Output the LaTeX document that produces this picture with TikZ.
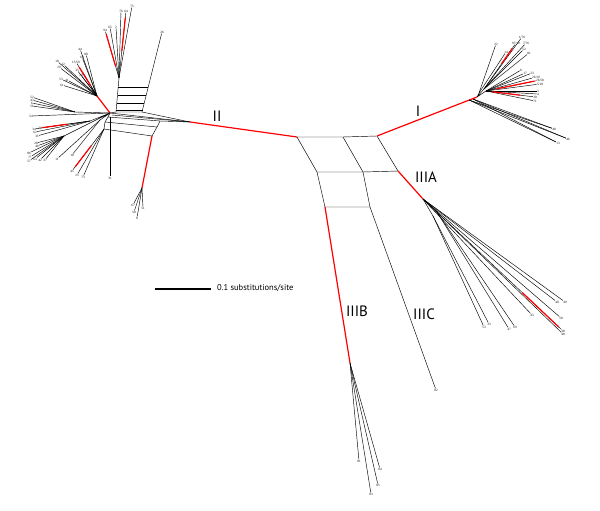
\documentclass[tikz,border=0pt]{standalone}
\usepackage{fontspec}
\setmainfont{Liberation Serif}
\newfontfamily\cladefont{PT Sans}
\usetikzlibrary{calc}
\begin{document}
\begin{tikzpicture}[x=1pt,y=-1pt,
  br/.style={draw=black,line width=0.45pt},
  rd/.style={draw=red,line width=1.2pt},
  lf/.style={font=\fontsize{3.3}{3.6}\selectfont,inner sep=0.3pt},
  cl/.style={font=\cladefont\fontsize{15}{15}\selectfont,inner sep=0pt},
  sc/.style={font=\cladefont\fontsize{8.5}{9}\selectfont,inner sep=0pt,anchor=west}]
\useasboundingbox (0,0) rectangle (600,511);
% ---------------- central network ----------------
\coordinate (A) at (297,137);
\coordinate (M) at (343,137);
\coordinate (B) at (377,136);
\coordinate (C1) at (317,172);
\coordinate (C2) at (363,172);
\coordinate (C3) at (398,171);
\coordinate (D1) at (325,207);
\coordinate (D2) at (370,207);
\draw[br] (A) -- (M) -- (B);
\draw[br] (A) -- (C1) (M) -- (C2) (B) -- (C3);
\draw[br] (C1) -- (C2) -- (C3);
\draw[br] (C1) -- (D1) (C2) -- (D2) (D1) -- (D2);
% hubs
\coordinate (hI) at (477,97);
\coordinate (hII) at (190,122);
\coordinate (hA) at (423,199);
\coordinate (hB) at (350,363);
\draw[rd] (B) -- (hI);
\draw[rd] (A) -- (hII);
\draw[rd] (C3) -- (hA);
\draw[rd] (D1) -- (hB);
\node[lf] (c82) at (436,390) {82};
\draw[br] (D2) -- (c82);
% clade labels
\node[cl] (lI) at (418,111) {I};
\node[cl] (lII) at (217,116) {II};
\node[cl] (lIIIA) at (426,177) {IIIA};
\node[cl] (lIIIB) at (357,311) {IIIB};
\node[cl] (lIIIC) at (424,314) {IIIC};
% scale bar
\coordinate (s1) at (155,289);
\coordinate (s2) at (211,289);
\draw[line width=1.1pt] (s1) -- (s2);
\node[sc] (st) at (217,288) {0.1 substitutions/site};
% ---------------- cluster I ----------------
\coordinate (I1) at (479,93);
\coordinate (I2) at (484,89);
\coordinate (I3) at (486,91);
\coordinate (I4) at (469,100);
\coordinate (I5) at (473,99);
\draw[br] (hI) -- (I1) (hI) -- (I2) (hI) -- (I3);
\foreach \x/\y/\t [count=\k] in {496/44/{22},506/52/{14}}
  {\node[lf] (Ic\k) at (\x,\y) {\t}; \draw[br] (I1) -- (Ic\k);}
\foreach \x/\y/\t [count=\k] in {516/43/{97/19},522/37/{1/76},526/43/{7/76},524/49/{52},529/53/{81}}
  {\node[lf] (Ia\k) at (\x,\y) {\t}; \draw[br] (I2) -- (Ia\k);}
\foreach \x/\y/\t [count=\k] in {521/70/{8},525/73/{17},532/73/{23},536/77/{26/19},540/80/{26/58},540/84/{5/18},538/91/{3},538/94/{4},535/97/{30},535/101/{71}}
  {\node[lf] (Ib\k) at (\x,\y) {\t}; \draw[br] (I3) -- (Ib\k);}
\foreach \x/\y/\t [count=\k] in {554/129/{48},568/139/{46},558/143/{13}}
  {\node[lf] (Id\k) at (\x,\y) {\t}; \draw[br] (I4) -- (Id\k); \draw[br] (I5) -- (Id\k);}
\draw[rd] ($(I2)!0.55!(Ia1)$) -- ($(I2)!0.88!(Ia1)$);
\draw[rd] ($(I3)!0.2!(Ib5)$) -- ($(I3)!0.9!(Ib5)$);
\draw[rd] ($(I3)!0.12!(Ib9)$) -- ($(I3)!0.7!(Ib9)$);
% ---------------- cluster IIIA ----------------
\coordinate (A1) at (433,216);
\coordinate (A2) at (437,212);
\draw[br] (hA) -- (A1) (hA) -- (A2);
\foreach \x/\y/\t [count=\k] in {557/302/{40},565/302/{49},561/318/{50},563/331/{38},563/334/{48},532/315/{43}}
  {\node[lf] (Aa\k) at (\x,\y) {\t}; \draw[br] (hA) -- (Aa\k);}
\foreach \x/\y/\t [count=\k] in {509/329/{47},515/327/{69}}
  {\node[lf] (Ab\k) at (\x,\y) {\t}; \draw[br] (A2) -- (Ab\k);}
\foreach \x/\y/\t [count=\k] in {484/327/{53},489/324/{33}}
  {\node[lf] (Ac\k) at (\x,\y) {\t}; \draw[br] (A1) -- (Ac\k);}
\draw[rd] ($(hA)!0.71!(Aa4)$) -- ($(hA)!0.97!(Aa4)$);
% ---------------- cluster IIIB ----------------
\foreach \x/\y/\t [count=\k] in {359/461/{81},380/469/{84},378/485/{85},371/494/{83}}
  {\node[lf] (Ba\k) at (\x,\y) {\t}; \draw[br] (hB) -- (Ba\k);}
% ---------------- cluster II ----------------
\coordinate (hL) at (110,113);
\coordinate (LB) at (116,112);
\coordinate (RB) at (142,112);
\coordinate (T) at (119,78);
\draw[br] (hL) -- (hII);
\draw[br] (hL) -- (LB) -- (RB) -- (hII);
\draw[br] (LB) -- (T);
% ladder
\draw[br] (118.2,87) -- (148.3,87) (117.5,95) -- (146.3,95) (116.8,103) -- (144.3,103) (116.2,110) -- (142.5,110);
\node[lf] (L26) at (162,32) {26};
\draw[br] (RB) -- (L26);
% box below band
\coordinate (Q1) at (108,117);
\coordinate (Q2) at (105,122);
\coordinate (Q3) at (104,129);
\coordinate (R1) at (160,121);
\coordinate (R2) at (157,127);
\coordinate (R3) at (152,136);
\draw[br] (hL) -- (Q1) -- (Q2) -- (Q3);
\draw[br] (R1) -- (R2) -- (R3);
\draw[br] (Q1) -- (R1) -- (hII);
\draw[br] (Q2) -- (R2);
\draw[br] (Q3) -- (R3);
\draw[br] (112,115) -- (hII);
\coordinate (hR) at (142,188);
\draw[rd] (R3) -- (hR);
\foreach \x/\y/\t [count=\k] in {133/205/{67},143/208/{51},134/212/{58},137/218/{8}}
  {\node[lf] (Ra\k) at (\x,\y) {\t}; \draw[br] (hR) -- (Ra\k);}
% top fan
\foreach \x/\y/\t [count=\k] in {105/30/{94},110/27/{65},116/27/{2},121/11/{76},126/11/{64},132/6/{75}}
  {\node[lf] (Ta\k) at (\x,\y) {\t}; \draw[br] (T) -- (Ta\k);}
\draw[rd] ($(T)!0.25!(Ta1)$) -- ($(T)!0.92!(Ta1)$);
\draw[rd] ($(T)!0.4!(Ta5)$) -- ($(T)!0.9!(Ta5)$);
% upper-left fan
\coordinate (UL) at (97,96);
\draw[rd] (hL) -- (UL);
\foreach \x/\y/\t [count=\k] in {80/49/{44},86/54/{80},82/57/{60},76/62/{15/59},57/61/{10},63/64/{12},59/67/{29},77/70/{35},82/71/{1},81/75/{20},61/79/{53},67/80/{41},62/85/{61}}
  {\node[lf] (Ua\k) at (\x,\y) {\t}; \draw[br] (UL) -- (Ua\k);}
\draw[rd] ($(UL)!0.3!(Ua4)$) -- ($(UL)!0.85!(Ua4)$);
% left fan
\coordinate (W1) at (75,112);
\coordinate (W2) at (90,121);
\coordinate (W3) at (64,136);
\coordinate (W4) at (100,120);
\draw[br] (hL) -- (W1) (hL) -- (W2) (hL) -- (W3) (hL) -- (W4);
\foreach \x/\y/\t [count=\k] in {32/97/{52},32/100/{43},32/103/{6},32/106/{56}}
  {\node[lf] (Wa\k) at (\x,\y) {\t}; \draw[br] (W1) -- (Wa\k);}
\node[lf] (L54) at (31,116) {54};
\draw[br] (hL) -- (L54);
\foreach \x/\y/\t [count=\k] in {34/129/{34},40/128/{75},35/132/{62},37/136/{33}}
  {\node[lf] (Wb\k) at (\x,\y) {\t}; \draw[br] (W2) -- (Wb\k);}
\foreach \x/\y/\t [count=\k] in {36/143/{28},37/146/{40},29/153/{86},30/157/{77},29/161/{57},35/159/{63},40/160/{42},45/160/{37}}
  {\node[lf] (Wc\k) at (\x,\y) {\t}; \draw[br] (W3) -- (Wc\k);}
\foreach \x/\y/\t [count=\k] in {57/159/{11},72/155/{18}}
  {\node[lf] (Wd\k) at (\x,\y) {\t}; \draw[br] (W4) -- (Wd\k);}
\foreach \x/\y/\t [count=\k] in {72/171/{45},77/175/{25},83/177/{73}}
  {\node[lf] (We\k) at (\x,\y) {\t}; \draw[br] (Q3) -- (We\k);}
\node[lf] (L31) at (110,178) {31};
\coordinate (V31) at (110,117);
\draw[br] (V31) -- (L31);
\draw[rd] ($(W2)!0.45!(Wb2)$) -- ($(W2)!0.95!(Wb2)$);
\draw[rd] ($(Q3)!0.4!(We1)$) -- ($(Q3)!0.9!(We1)$);
\end{tikzpicture}
\end{document}
